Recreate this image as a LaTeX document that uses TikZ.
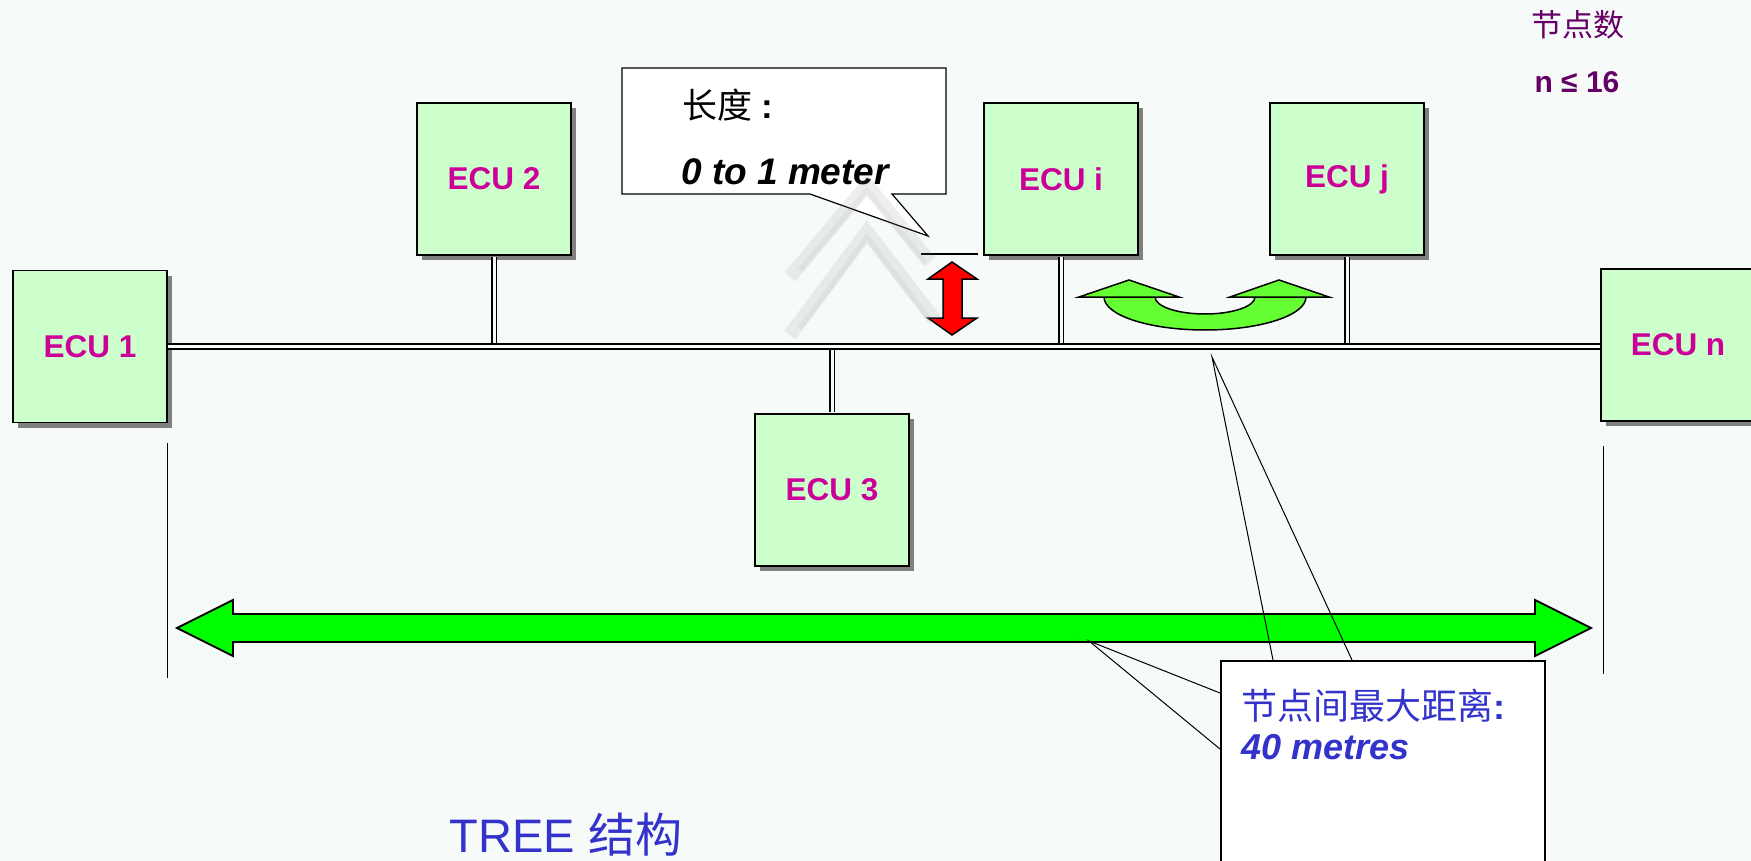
\documentclass[tikz,border=0pt]{standalone}
\usepackage{fontspec}
\setmainfont{Liberation Sans}
\newfontfamily\cjk{Noto Sans CJK SC}
\usepackage{xcolor}
\usepackage{tikz}
\usetikzlibrary{positioning,shadows}

\definecolor{bgpaper}{HTML}{F6FAF8}
\definecolor{ecufill}{HTML}{CCFFCC}
\definecolor{ecutext}{HTML}{CC0099}
\definecolor{spangreen}{HTML}{00FF00}
\definecolor{arcgreen}{HTML}{66FF33}
\definecolor{noteblue}{HTML}{3333CC}
\definecolor{countpurple}{HTML}{660066}

\begin{document}
\begin{tikzpicture}[
  x=1pt, y=-1pt,
  ecu/.style = {rectangle, draw=black, line width=1.6pt, fill=ecufill,
    minimum width=154pt, minimum height=152pt, inner sep=0pt,
    text=ecutext, font=\bfseries\fontsize{31.5}{36}\selectfont,
    drop shadow={shadow xshift=5pt, shadow yshift=-5pt, fill=black!50, opacity=1}},
  bus/.style = {draw=black, line width=1.8pt, double=bgpaper, double distance=3pt},
  note/.style = {anchor=west, inner sep=0pt},
  pointer/.style = {draw=black, line width=1pt},
  extline/.style = {draw=black, line width=1.2pt},
  greenshape/.style = {draw=black, line width=1.5pt, line join=miter},
  chevron/.style = {line width=14pt, gray, opacity=0.13, line join=miter},
]
  \useasboundingbox (0,0) rectangle (1751,861);
  \fill[bgpaper] (0,0) rectangle (1751,861);

  % span arrow between the two end nodes
  \coordinate (spanL) at (177,628);
  \coordinate (spanR) at (1591,628);
  \filldraw[greenshape, fill=spangreen, line width=1.8pt] (spanL) -- (233,600) -- (233,614) -- (1535,614)
    -- (1535,600) -- (spanR) -- (1535,656) -- (1535,642) -- (233,642) -- (233,656) -- cycle;

  \node[ecu] (ecu1) at (90,346.5)  {ECU 1};
  \node[ecu] (ecu2) at (494,179)   {ECU 2};
  \node[ecu] (ecu3) at (832,490)   {ECU 3};
  \node[ecu] (ecui) at (1061,179)  {ECU i};
  \node[ecu] (ecuj) at (1347,179)  {ECU j};
  \node[ecu] (ecun) at (1678,345)  {ECU n};

  \draw[extline] ([yshift=-20pt]ecu1.south east) -- ++(0,235);
  \draw[extline] ([yshift=-24pt,xshift=3pt]ecun.south west) -- ++(0,228);

  \draw[bus, shorten <=1pt] (ecu2.south) -- (ecu2.south |- ecu1.east);
  \draw[bus, shorten <=1pt] (ecu3.north) -- (ecu3.north |- ecu1.east);
  \draw[bus, shorten <=1pt] (ecui.south) -- (ecui.south |- ecu1.east);
  \draw[bus, shorten <=1pt] (ecuj.south) -- (ecuj.south |- ecu1.east);
  \draw[bus] (ecu1.east) -- (ecu1.east -| ecun.west);

  % length callout
  \filldraw[fill=white, draw=black, line width=1.2pt] (622,68) -- (946,68) -- (946,194) -- (892,194)
    -- (928,236) -- (810,194) -- (622,194) -- cycle;
  \node[note, font=\fontsize{35}{40}\selectfont] (lenlabel) at (682,105) {{\cjk 长度} \textbf{:}};
  \node[note, font=\bfseries\itshape\fontsize{37}{42}\selectfont] (lenvalue) at (681,172) {0 to 1 meter};
  \draw[line width=1.2pt] (921,254) -- (978,254);
  \filldraw[fill=red, draw=black, line width=1.5pt, line join=miter] (952,262) -- (977,279) -- (962,279)
    -- (962,318) -- (977,318) -- (952,335) -- (928,318) -- (943,318) -- (943,279) -- (928,279) -- cycle;

  \draw[chevron] (790,277) -- (867,185) -- (930,262);
  \draw[chevron] (790,335) -- (867,232) -- (935,320);
  \draw[chevron, line width=5pt, opacity=0.08] (800,270) -- (867,190) -- (925,262);
  \draw[chevron, line width=5pt, opacity=0.08] (800,328) -- (867,237) -- (930,320);

  % swap arrow between ECU i and ECU j
  \filldraw[greenshape, fill=arcgreen] (1104,297) arc[start angle=180, end angle=0, x radius=101, y radius=33]
    -- (1255,297) arc[start angle=0, end angle=180, x radius=50, y radius=17] -- cycle;
  \filldraw[greenshape, fill=arcgreen] (1079,297) -- (1129,280) -- (1179,297) -- cycle;
  \filldraw[greenshape, fill=arcgreen] (1230,297) -- (1279,280) -- (1329,297) -- cycle;

  % distance callout
  \coordinate (tipbus) at (1212,357);
  \coordinate (tipspan) at (1089,641);
  \node[draw=black, line width=1.5pt, fill=white, anchor=north west, inner sep=0pt,
    minimum width=324pt, minimum height=230pt] (distbox) at (1220,660) {};
  \draw[pointer] ([yshift=-33pt]distbox.north west) -- (tipspan) -- ([yshift=-89pt]distbox.north west);
  \draw[pointer] ([xshift=53pt]distbox.north west) -- (tipbus) -- ([xshift=132pt]distbox.north west);
  \node[note, text=noteblue, font=\fontsize{36}{42}\selectfont] (distlabel) at (1241,706)
    {{\cjk 节点间最大距离}\textbf{:}};
  \node[note, text=noteblue, font=\bfseries\itshape\fontsize{36}{42}\selectfont] (distvalue) at (1241,747) {40 metres};

  \node[text=countpurple, font=\cjk\fontsize{31}{36}\selectfont] (countlabel) at (1578,25) {节点数};
  \node[text=countpurple, font=\bfseries\fontsize{30}{36}\selectfont] (countvalue) at (1577,82) {n ≤ 16};

  \node[text=noteblue, inner sep=0pt, font=\fontsize{47}{54}\selectfont] (title) at (566,835) {TREE {\cjk 结构}};
\end{tikzpicture}
\end{document}
